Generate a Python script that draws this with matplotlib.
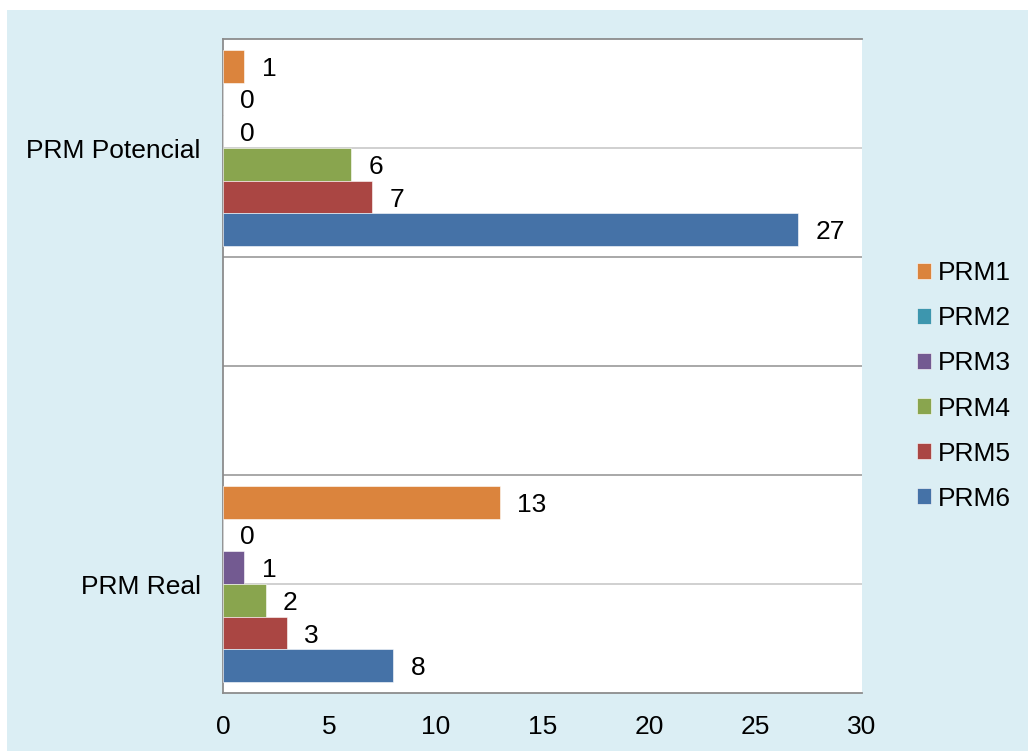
import matplotlib
matplotlib.use("Agg")
import matplotlib.pyplot as plt
from matplotlib.patches import Rectangle

plt.rcParams["font.family"] = ["Liberation Sans", "DejaVu Sans"]

# data
categories = ["PRM Real", "PRM Potencial"]
series = ["PRM1", "PRM2", "PRM3", "PRM4", "PRM5", "PRM6"]
values = {
    "PRM1": [13, 1],
    "PRM2": [0, 0],
    "PRM3": [1, 0],
    "PRM4": [2, 6],
    "PRM5": [3, 7],
    "PRM6": [8, 27],
}
colors = ["#DB843D", "#3D96AE", "#735A91", "#89A54E", "#AA4643", "#4572A7"]
x_ticks = [0, 5, 10, 15, 20, 25, 30]

BG = "#DBEEF4"
FS = 19

fig = plt.figure(figsize=(10.28, 7.51), dpi=100)
fig.patch.set_facecolor("white")
fig.patches.append(Rectangle((7 / 1028, 0), 1, 1 - 10 / 751,
                             transform=fig.transFigure, facecolor=BG,
                             edgecolor="none", zorder=-10))

ax = fig.add_axes([223 / 1028, 1 - 693 / 751, 639 / 1028, 654 / 751])
ax.set_facecolor("white")

centers = [1, 5]
bar_h = 0.3
# PRM6 sits at the bottom of each group, PRM1 at the top
for i, name in enumerate(series):
    offset = (5 - i - 2.5) * bar_h
    ys = [c + offset for c in centers]
    ax.barh(ys, values[name], height=bar_h, color=colors[i],
            edgecolor="white", linewidth=0.4, label=name, zorder=3)
    for y, v in zip(ys, values[name]):
        ax.annotate(str(v), (v, y), xytext=(12.5, 0), textcoords="offset points",
                    ha="left", va="center_baseline", fontsize=FS, zorder=4)

ax.set_xlim(0, 30)
ax.set_ylim(0, 6)
ax.set_xticks(x_ticks)
ax.set_xticklabels([str(t) for t in x_ticks], fontsize=FS)
ax.set_yticks(centers)
ax.set_yticklabels(categories, fontsize=FS)
ax.tick_params(axis="both", length=0, pad=16)
ax.tick_params(axis="y", pad=16)

for y in [1, 5]:
    ax.axhline(y, color="#C8C8C8", linewidth=1.2, zorder=1)
for y in [2, 3, 4]:
    ax.axhline(y, color="#999999", linewidth=1.2, zorder=1)

for side in ["left", "bottom", "top"]:
    ax.spines[side].set_color("#8C8C8C")
    ax.spines[side].set_linewidth(1.3)
ax.spines["right"].set_visible(False)

handles, labels = ax.get_legend_handles_labels()
fig.legend(handles, labels, loc="center left",
           bbox_to_anchor=(893 / 1028, 1 - 386 / 751),
           frameon=False, fontsize=FS, handlelength=0.55, handleheight=0.55,
           handletextpad=0.25, labelspacing=0.8)

fig.savefig("out.png", dpi=100, facecolor=fig.get_facecolor())
